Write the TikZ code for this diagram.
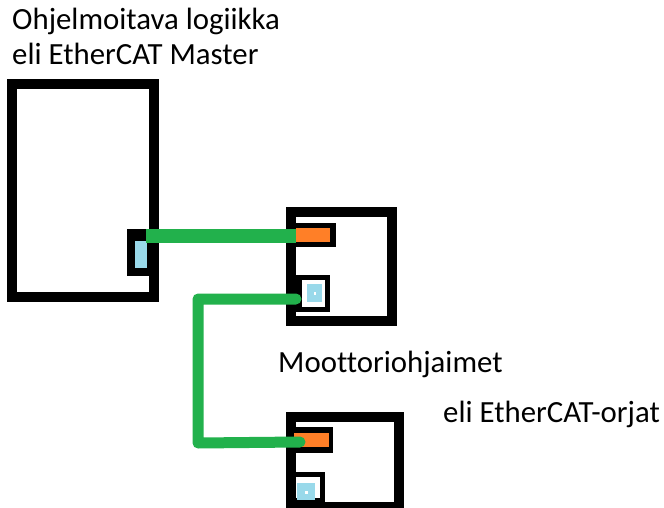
\documentclass[tikz,border=0pt]{standalone}
\usepackage{fontspec}
\setmainfont[Ligatures={NoCommon}]{Carlito}
\definecolor{pgreen}{HTML}{22B14C}
\definecolor{porange}{HTML}{FF7F27}
\definecolor{pblue}{HTML}{99D9EA}
\tikzset{
  devbox/.style={draw=black, line width=10pt},
  blk/.style={fill=black},
  cable/.style={draw=pgreen, line width=13pt},
  lbl/.style={anchor=base west, inner sep=0pt, font=\fontsize{30.8}{36}\selectfont}
}
\begin{document}
\begin{tikzpicture}[x=1pt,y=-1pt]
\useasboundingbox (0,0) rectangle (664,508);
\clip (0,0) rectangle (664,508);
\fill[white] (0,0) rectangle (664,508);

% Master
\draw[devbox] (12,84) rectangle (154,297);
\fill[blk] (127,229) rectangle (154,276);
\fill[pblue] (135,241) rectangle (147,268);
\coordinate (mport) at (146,236);

% Slave 1
\draw[devbox] (291,212) rectangle (392,321);
\fill[blk] (286,223) rectangle (336,247);
\fill[porange] (296,228) rectangle (330,242);
\fill[blk] (286,275) rectangle (330,312);
\fill[white] (302,280) rectangle (325,307);
\fill[pblue] (307,284) rectangle (322,302);
\fill[white] (313.5,292) rectangle (315.5,294.5);
\coordinate (s1in) at (296,236);
\coordinate (s1out) at (296,299);

% Slave 2
\draw[devbox] (291,417) rectangle (398.5,507);
\fill[blk] (286,427) rectangle (333,453);
\fill[porange] (294,433) rectangle (329,447);
\fill[blk] (286,472) rectangle (325,502);
\fill[white] (296,477) rectangle (320,498);
\fill[pblue] (297,483) rectangle (315,500);
\fill[white] (305,491) rectangle (307.5,493.5);
\coordinate (s2in) at (300,442);

% Cables
\draw[cable, line width=14pt] (mport) -- (s1in);
\coordinate (bend1) at (198,299);
\coordinate (bend2) at (198,443);
\draw[cable, line width=11pt, line cap=round, line join=round] (s1out) -- (bend1) -- (bend2) -- (s2in);

% Labels
\node[lbl] (t1) at (12,30) {Ohjelmoitava logiikka};
\node[lbl] (t2) at (12,65) {eli EtherCAT Master};
\node[lbl] (t3) at (278,372) {Moottoriohjaimet};
\node[lbl] (t4) at (443,422) {eli EtherCAT-orjat};
\end{tikzpicture}
\end{document}
